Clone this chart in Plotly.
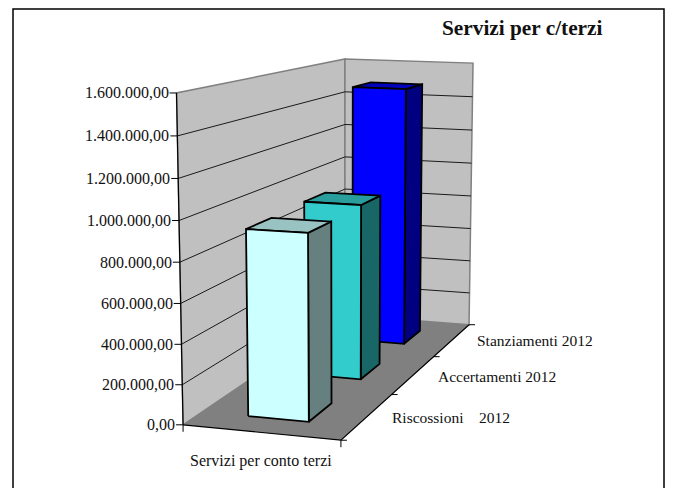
import numpy as np
import plotly.graph_objects as go

# ---- data ----
CHART_TITLE = "Servizi per c/terzi"
CATEGORY = "Servizi per conto terzi"
SERIES = ["Riscossioni\u00a0\u00a0\u00a0 2012", "Accertamenti 2012", "Stanziamenti 2012"]
VALUES = [935000, 945000, 1485000]
VALUE_TICKS = [0, 200000, 400000, 600000, 800000, 1000000, 1200000, 1400000, 1600000]
VALUE_TICK_LABELS = ["0,00", "200.000,00", "400.000,00", "600.000,00", "800.000,00",
                     "1.000.000,00", "1.200.000,00", "1.400.000,00", "1.600.000,00"]
VMAX = 1600000

# ---- styles ----
FRONT = ["#CCFFFF", "#33CCCC", "#0000FF"]
TOP = ["#99C2C2", "#2A9D9D", "#0000BF"]
SIDE = ["#668080", "#196666", "#000080"]
FONT = "Liberation Serif"

# ---- 3D box view: (category, depth, height) in unit box -> picture position ----
BOX = [(0, 0, 0), (1, 0, 0), (1, 1, 0), (0, 1, 0), (0, 0, 1), (0, 1, 1), (1, 1, 1)]
VIEW = [(183, 425), (341, 440), (469, 325), (345, 315), (176.5, 93), (345, 59), (473, 63)]


def fit_view():
    rows = []
    for (a, b, c), (px, py) in zip(BOX, VIEW):
        rows.append([a, b, c, 1, 0, 0, 0, 0, -px * a, -px * b, -px * c, -px])
        rows.append([0, 0, 0, 0, a, b, c, 1, -py * a, -py * b, -py * c, -py])
    return np.linalg.svd(np.array(rows, float))[2][-1].reshape(3, 4)


M = fit_view()


def pr(a, b, c):
    p = M @ np.array([a, b, c, 1.0])
    return p[0] / p[2], p[1] / p[2]


fig = go.Figure()


def poly(points, fill=None, line="black", width=1.0, name=""):
    xy = [pr(*p) for p in points]
    xs = [q[0] for q in xy]
    ys = [q[1] for q in xy]
    if fill:
        xs.append(xs[0])
        ys.append(ys[0])
    fig.add_trace(go.Scatter(
        x=xs, y=ys, mode="lines", fill="toself" if fill else None, fillcolor=fill,
        line=dict(color=line if line else fill, width=width if line else 0),
        hoverinfo="skip", showlegend=False, name=name))


# walls and floor
poly([(0, 0, 0), (0, 1, 0), (0, 1, 1), (0, 0, 1)], fill="#C0C0C0", line="#808080", width=1.5)
poly([(0, 1, 0), (1, 1, 0), (1, 1, 1), (0, 1, 1)], fill="#C0C0C0", line="#808080", width=1.5)
for t in VALUE_TICKS[1:-1]:
    h = t / VMAX
    poly([(0, 0, h), (0, 1, h), (1, 1, h)], line="#1a1a1a", width=1.0)
poly([(0, 0, 0), (1, 0, 0), (1, 1, 0), (0, 1, 0)], fill="#808080", line=None)
# axis lines
poly([(0, 0, 0), (0, 0, 1)], line="black", width=1.2)
poly([(0, 0, 0), (1, 0, 0), (1, 1, 0)], line="black", width=1.2)

# ticks
for t in VALUE_TICKS:
    x, y = pr(0, 0, t / VMAX)
    fig.add_trace(go.Scatter(x=[x - 7, x], y=[y, y], mode="lines", line=dict(color="black", width=1),
                             hoverinfo="skip", showlegend=False))
for v in (0, 1 / 3, 2 / 3, 1):
    x, y = pr(1, v, 0)
    fig.add_trace(go.Scatter(x=[x, x + 6], y=[y, y], mode="lines", line=dict(color="black", width=1),
                             hoverinfo="skip", showlegend=False))
for u in (0, 1):
    x, y = pr(u, 0, 0)
    fig.add_trace(go.Scatter(x=[x, x], y=[y, y + 7], mode="lines", line=dict(color="black", width=1),
                             hoverinfo="skip", showlegend=False))

# bars, back to front
U0, U1 = 0.303, 0.697
V_FRONT_OFFSET = 0.072
V_BACK_OFFSET = 0.066
for i in reversed(range(len(VALUES))):
    c = (i + 0.5) / len(VALUES)
    v0, v1 = c - V_FRONT_OFFSET, c + V_BACK_OFFSET
    h = VALUES[i] / VMAX
    poly([(U1, v0, 0), (U1, v1, 0), (U1, v1, h), (U1, v0, h)], fill=SIDE[i], width=1.8, name=SERIES[i])
    poly([(U0, v0, h), (U1, v0, h), (U1, v1, h), (U0, v1, h)], fill=TOP[i], width=1.8, name=SERIES[i])
    poly([(U0, v0, 0), (U1, v0, 0), (U1, v0, h), (U0, v0, h)], fill=FRONT[i], width=1.8, name=SERIES[i])

# value labels
for t, lab in zip(VALUE_TICKS, VALUE_TICK_LABELS):
    x, y = pr(0, 0, t / VMAX)
    fig.add_annotation(x=x - 7, y=y, text=lab, showarrow=False, xanchor="right", yanchor="middle",
                       font=dict(family=FONT, size=16, color="#111111"), xshift=1)

# series labels
for v, lab, (lx, ly) in zip((1 / 6, 1 / 2, 5 / 6), SERIES, ((390, 417), (436, 376), (475, 340))):
    fig.add_annotation(x=lx, y=ly, text=lab, showarrow=False, xanchor="left", yanchor="middle",
                       font=dict(family=FONT, size=15.5, color="#111111"))
fig.add_annotation(x=261, y=461, text=CATEGORY, showarrow=False, xanchor="center", yanchor="middle",
                   font=dict(family=FONT, size=16, color="#111111"))
fig.add_annotation(x=522, y=28, text="<b>" + CHART_TITLE + "</b>", showarrow=False,
                   xanchor="center", yanchor="middle",
                   font=dict(family=FONT, size=21.3, color="#111111"))

# chart frame
fig.add_shape(type="rect", x0=13, y0=9, x1=664, y1=520, line=dict(color="black", width=1.5),
              fillcolor="rgba(0,0,0,0)", layer="below")

fig.update_xaxes(range=[0, 674], visible=False, fixedrange=True)
fig.update_yaxes(range=[488, 0], visible=False, fixedrange=True)
fig.update_layout(width=674, height=488, margin=dict(l=0, r=0, t=0, b=0),
                  paper_bgcolor="white", plot_bgcolor="white", showlegend=False)
fig.write_html("out.html", config={"displayModeBar": False},
               post_script="document.body.style.margin='0';document.documentElement.style.overflow='hidden';")
